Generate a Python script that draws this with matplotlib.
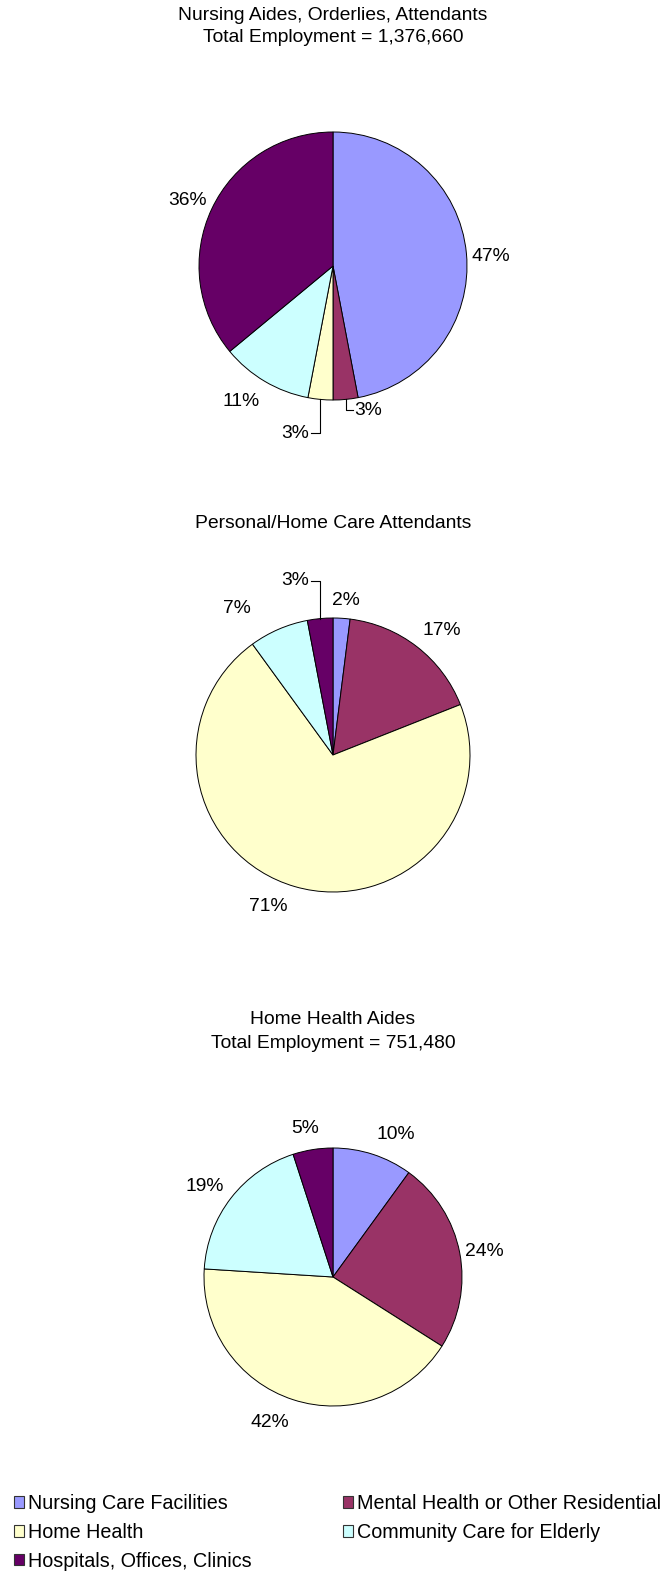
import matplotlib
matplotlib.use("Agg")
import matplotlib.pyplot as plt
import numpy as np
from matplotlib.patches import Patch

plt.rcParams['font.family'] = ['Liberation Sans', 'DejaVu Sans']

# Industry categories and colours
categories = ["Nursing Care Facilities", "Mental Health or Other Residential",
              "Home Health", "Community Care for Elderly", "Hospitals, Offices, Clinics"]
colors = ["#9999FF", "#993366", "#FFFFCC", "#CCFFFF", "#660066"]

# Share of employment (%) by industry for each occupation
aides_share = [47, 3, 3, 11, 36]
personal_share = [2, 17, 71, 7, 3]
home_health_share = [10, 24, 42, 19, 5]

titles = [["Nursing Aides, Orderlies, Attendants", "Total Employment = 1,376,660"],
          ["Personal/Home Care Attendants"],
          ["Home Health Aides", "Total Employment = 751,480"]]

W, H = 663, 1572
fig = plt.figure(figsize=(W / 100, H / 100), dpi=100)
ax = fig.add_axes([0, 0, 1, 1])

FS = 13.9
LEG_FS = 14.2

# layout of each pie: center (x, y from top), radius, title line positions
pies = [
    dict(values=aides_share, center=(333, 266), r=134, title_y=[15, 38],
         # per-label (clockwise angle shift, radial distance) or leader spec
         labels=[(2, 1.18), ("leader", -11, 7), ("leader", -34, -9), (3.5, 1.22), (-1, 1.19)]),
    dict(values=personal_share, center=(333, 755), r=137, title_y=[523],
         labels=[(1.2, 1.135), (3.3, 1.21), (7, 1.2), (-10, 1.28), ("leader", 38, -9)]),
    dict(values=home_health_share, center=(333, 1277), r=129, title_y=[1020, 1043],
         labels=[(5.8, 1.21), (1.1, 1.19), (5.3, 1.23), (-2.6, 1.22), (-1.6, 1.17)]),
]

for p, ttl in zip(pies, titles):
    cx, cy = p["center"][0], H - p["center"][1]
    r = p["r"]
    wedges, _ = ax.pie(p["values"], colors=colors, startangle=90, counterclock=False,
                       center=(cx, cy), radius=r, frame=True,
                       wedgeprops=dict(edgecolor="black", linewidth=0.7))
    for w, v, lay in zip(wedges, p["values"], p["labels"]):
        mid = np.deg2rad((w.theta1 + w.theta2) / 2)
        txt = f"{v}%"
        if lay[0] == "leader":
            _, dy, hx = lay
            ex, ey = cx + r * np.cos(mid), cy + r * np.sin(mid)
            ax.plot([ex, ex, ex + hx], [ey, ey + dy, ey + dy], color="black", lw=0.8)
            if hx > 0:
                ax.text(ex + hx + 2, ey + dy, txt, ha="left", va="center", fontsize=FS)
            else:
                ax.text(ex + hx - 2, ey + dy, txt, ha="right", va="center", fontsize=FS)
        else:
            shift, dist = lay
            a = mid - np.deg2rad(shift)
            ax.text(cx + dist * r * np.cos(a), cy + dist * r * np.sin(a), txt,
                    ha="center", va="center", fontsize=FS)
    for line, ty in zip(ttl, p["title_y"]):
        ax.text(333, H - ty, line, ha="center", va="center", fontsize=FS)

ax.set_xlim(0, W)
ax.set_ylim(0, H)
ax.set_aspect('equal')
ax.axis('off')

# legend laid out row by row (matplotlib fills columns first)
order = [0, 2, 4, 1, 3]
handles = [Patch(facecolor=colors[i], edgecolor="#333333", linewidth=0.8) for i in order]
fig.legend(handles, [categories[i] for i in order], ncol=2, loc="upper left",
           bbox_to_anchor=(10 / W, 1 - 1490 / H), frameon=False, fontsize=LEG_FS,
           handlelength=0.52, handleheight=0.52, handletextpad=0.2,
           labelspacing=0.5, columnspacing=4.62, borderpad=0.2, borderaxespad=0)

fig.savefig("out.png", dpi=100)
